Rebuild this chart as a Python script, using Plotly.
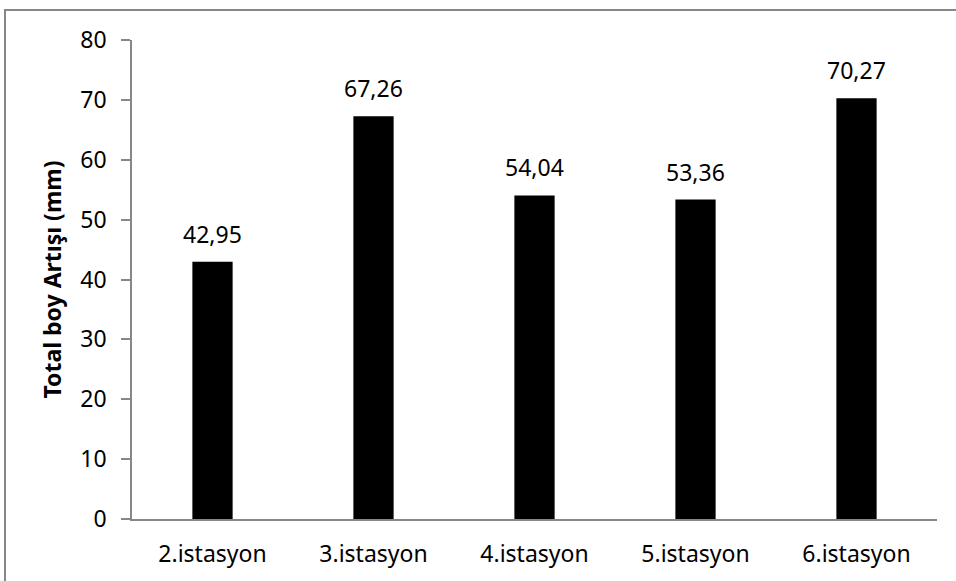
import plotly.graph_objects as go

categories = ["2.istasyon", "3.istasyon", "4.istasyon", "5.istasyon", "6.istasyon"]
values = [42.95, 67.26, 54.04, 53.36, 70.27]
y_ticks = [0, 10, 20, 30, 40, 50, 60, 70, 80]
y_title = "Total boy Artışı (mm)"

FONT = "Noto Sans"
FS = 23
W, H = 956, 581
ML, MR, MT, MB = 132, 19, 40, 62
PW, PH = W - ML - MR, H - MT - MB

fig = go.Figure()
fig.add_trace(go.Bar(
    x=categories, y=values,
    marker=dict(color="#000000", line=dict(width=0)),
    width=0.25,
    hoverinfo="x+y",
))

for c, v in zip(categories, values):
    fig.add_annotation(
        x=c, y=v, xref="x", yref="y",
        text=f"{v:.2f}".replace(".", ","),
        showarrow=False, yanchor="bottom", yshift=10,
        font=dict(family=FONT, size=FS, color="#000000"),
    )

# outer chart border (extends beyond the right/bottom edges like the reference)
fig.add_shape(
    type="rect", xref="paper", yref="paper",
    x0=(5 - ML) / PW, x1=(W + 10 - ML) / PW,
    y0=(H - MB - (H + 10)) / PH, y1=(H - MB - 10) / PH,
    line=dict(color="#878787", width=2), fillcolor="rgba(0,0,0,0)",
    layer="below",
)

fig.update_layout(
    width=W, height=H,
    margin=dict(l=ML, r=MR, t=MT, b=MB, pad=0),
    paper_bgcolor="white", plot_bgcolor="white",
    showlegend=False,
    font=dict(family=FONT, size=FS, color="#000000"),
    xaxis=dict(
        showline=True, linecolor="#878787", linewidth=1.5,
        ticks="", showgrid=False, zeroline=False,
        tickfont=dict(family=FONT, size=FS, color="#000000"),
        ticklabelstandoff=14,
    ),
    yaxis=dict(
        range=[0, 80], tickvals=y_ticks,
        showline=True, linecolor="#878787", linewidth=1.5,
        ticks="outside", ticklen=9, tickcolor="#878787", tickwidth=1.5,
        showgrid=False, zeroline=False,
        tickfont=dict(family=FONT, size=FS, color="#000000"),
        ticklabelstandoff=10,
        title=dict(text="<b>" + y_title + "</b>", standoff=12,
                   font=dict(family=FONT, size=23, color="#000000")),
    ),
)

fig.write_html("out.html")
